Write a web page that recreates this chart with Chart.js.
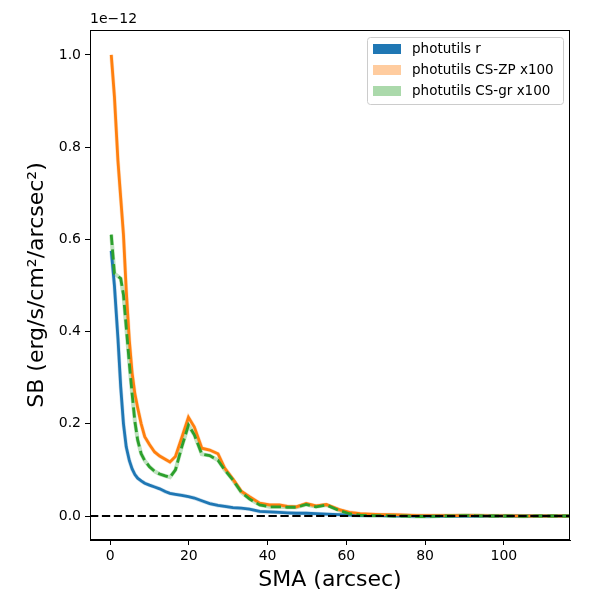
<!DOCTYPE html>
<html>
<head>
<meta charset="utf-8">
<script src="https://cdn.jsdelivr.net/npm/chart.js@4.4.1/dist/chart.umd.min.js"></script>
<style>
  html, body { margin: 0; padding: 0; background: #fff; }
  #wrap { width: 600px; height: 600px; }
</style>
</head>
<body>
<div id="wrap"><canvas id="c" width="600" height="600"></canvas></div>
<script>
// ---- data (SB in units of 1e-12) ----
const sma = [0.3, 1.1, 2.0, 2.7, 3.4, 4.1, 4.9, 5.6, 6.3, 7.0, 7.9, 8.8, 10.0, 11.3, 12.6, 14.0, 15.2, 16.6, 18.2, 19.9,
             21.4, 23.3, 25.3, 27.4, 29.1, 31.2, 33.3, 35.4, 38.0, 40.5, 43.0, 45.0, 47.3, 49.8, 52.3, 54.9, 58.2, 60.8, 63.5, 66.0,
             69, 72, 75, 78, 81, 84, 87, 90, 93, 96, 99, 102, 105, 108, 111, 114, 117];
const sbR = [0.575, 0.50, 0.385, 0.28, 0.20, 0.150, 0.120, 0.102, 0.090, 0.082, 0.076, 0.071, 0.067, 0.063, 0.059, 0.053, 0.049, 0.047, 0.045, 0.042,
             0.039, 0.033, 0.027, 0.023, 0.021, 0.018, 0.017, 0.015, 0.010, 0.009, 0.008, 0.007, 0.006, 0.006, 0.005, 0.004, 0.003, 0.002, 0.001, 0.001,
             0.001, 0.0005, 0.0005, 0.0, 0.0, 0.0, 0.0, 0.0, 0.0, 0.0, 0.0, 0.0, 0.0, 0.0, 0.0, 0.0, 0.0];
const sbZP = [1.0, 0.91, 0.77, 0.69, 0.61, 0.49, 0.38, 0.31, 0.265, 0.235, 0.20, 0.172, 0.155, 0.139, 0.130, 0.123, 0.117, 0.129, 0.170, 0.214,
              0.193, 0.147, 0.143, 0.135, 0.104, 0.080, 0.054, 0.042, 0.028, 0.024, 0.024, 0.021, 0.020, 0.027, 0.022, 0.025, 0.014, 0.008, 0.005, 0.004,
              0.003, 0.003, 0.002, 0.001, 0.001, 0.001, 0.001, 0.001, 0.001, 0.0005, 0.0005, 0.0005, 0.0, 0.0, 0.0, 0.0, 0.0];
const sbGR = [0.61, 0.526, 0.52, 0.515, 0.48, 0.41, 0.33, 0.265, 0.205, 0.165, 0.135, 0.120, 0.107, 0.097, 0.091, 0.087, 0.084, 0.100, 0.150, 0.197,
              0.176, 0.134, 0.131, 0.121, 0.100, 0.078, 0.052, 0.037, 0.024, 0.020, 0.020, 0.019, 0.019, 0.025, 0.020, 0.024, 0.012, 0.005, 0.002, 0.001,
              0.001, 0.0, 0.0, -0.001, -0.001, 0.0, 0.0, 0.001, 0.0005, 0.0, 0.0, 0.0, -0.0005, 0.0, 0.0, 0.0, 0.0];
const seriesLabels = ['photutils r', 'photutils CS-ZP x100', 'photutils CS-gr x100'];
const xTicks = [0, 20, 40, 60, 80, 100];
const yTicks = [0.0, 0.2, 0.4, 0.6, 0.8, 1.0];
const xRange = [-5.1, 116.8];
const yRange = [-0.052, 1.054];
const zeroLevel = 0;

const BLUE = '#1f77b4', ORANGE = '#ff7f0e', GREEN = '#2ca02c';
const FONT = 'DejaVu Sans';

function pts(ys) { return sma.map((x, i) => ({x: x, y: ys[i]})); }

const datasets = [
  // uncertainty bands (drawn as slightly wider translucent strokes)
  {label: seriesLabels[0], data: pts(sbR), borderColor: 'rgba(31,119,180,0.25)', borderWidth: 4, pointRadius: 0, legendBox: BLUE, order: 10},
  {label: seriesLabels[1], data: pts(sbZP), borderColor: 'rgba(255,127,14,0.25)', borderWidth: 4, pointRadius: 0, legendBox: 'rgba(255,127,14,0.4)', order: 9},
  {label: seriesLabels[2], data: pts(sbGR), borderColor: 'rgba(44,160,44,0.3)', borderWidth: 4, pointRadius: 0, legendBox: 'rgba(44,160,44,0.4)', order: 8},
  // main lines
  {label: '', data: pts(sbR), borderColor: BLUE, borderWidth: 2.8, pointRadius: 0, order: 7},
  {label: '', data: pts(sbZP), borderColor: ORANGE, borderWidth: 2.8, pointRadius: 0, order: 6},
  {label: '', data: pts(sbGR), borderColor: GREEN, borderWidth: 2.8, borderDash: [10.3, 4.4], pointRadius: 0, order: 5},
  // zero reference
  {label: '', data: [{x: xRange[0], y: zeroLevel}, {x: xRange[1], y: zeroLevel}], borderColor: '#000', borderWidth: 2, borderDash: [8.3, 3.6], pointRadius: 0, order: 1}
];

const framePlugin = {
  id: 'frame',
  afterDraw(chart) {
    const {ctx, chartArea: a} = chart;
    ctx.save();
    ctx.strokeStyle = '#000';
    ctx.lineWidth = 1;
    ctx.strokeRect(a.left + 0.5, a.top + 0.5, a.right - a.left - 1, a.bottom - a.top - 1);
    ctx.fillStyle = '#000';
    ctx.font = '14px "' + FONT + '"';
    ctx.textAlign = 'left';
    ctx.textBaseline = 'bottom';
    ctx.fillText('1e\u221212', a.left, a.top - 4);
    // legend
    const items = chart.data.datasets.filter(d => d.legendBox);
    const lx = 367, ly = 37, lw = 196, lh = 67;
    ctx.fillStyle = 'rgba(255,255,255,0.8)';
    ctx.strokeStyle = '#cccccc';
    ctx.lineWidth = 1;
    ctx.beginPath();
    if (ctx.roundRect) ctx.roundRect(lx + 0.5, ly + 0.5, lw, lh, 3); else ctx.rect(lx + 0.5, ly + 0.5, lw, lh);
    ctx.fill(); ctx.stroke();
    ctx.font = '13.5px "' + FONT + '"';
    ctx.textBaseline = 'middle';
    items.forEach((d, i) => {
      const cy = ly + 12 + i * 21;
      ctx.fillStyle = d.legendBox;
      ctx.fillRect(lx + 6, cy - 5, 28, 10);
      ctx.fillStyle = '#000';
      ctx.fillText(d.label, lx + 45, cy);
    });
    ctx.restore();
  }
};

new Chart(document.getElementById('c'), {
  type: 'line',
  data: {datasets: datasets},
  plugins: [framePlugin],
  options: {
    responsive: false,
    animation: false,
    devicePixelRatio: 1,
    layout: {padding: {top: 30, right: 30, left: 0, bottom: 0}},
    plugins: {legend: {display: false}, tooltip: {enabled: false}},
    elements: {line: {tension: 0, fill: false}},
    scales: {
      x: {
        type: 'linear', min: xRange[0], max: xRange[1],
        afterBuildTicks(s) { s.ticks = xTicks.map(v => ({value: v})); },
        afterFit(s) { s.height = 60; },
        grid: {drawOnChartArea: false, drawTicks: true, tickLength: 5, color: '#000', tickWidth: 1},
        border: {display: true, color: '#000', width: 1},
        ticks: {color: '#000', font: {family: FONT, size: 14}, padding: 3, maxRotation: 0, autoSkip: false,
                callback: v => String(v)},
        title: {display: true, text: 'SMA (arcsec)', color: '#000', font: {family: FONT, size: 22}, padding: {top: 0, bottom: 7}}
      },
      y: {
        type: 'linear', min: yRange[0], max: yRange[1],
        afterBuildTicks(s) { s.ticks = yTicks.map(v => ({value: v})); },
        afterFit(s) { s.width = 90; },
        grid: {drawOnChartArea: false, drawTicks: true, tickLength: 5, color: '#000', tickWidth: 1},
        border: {display: true, color: '#000', width: 1},
        ticks: {color: '#000', font: {family: FONT, size: 14}, padding: 4, autoSkip: false,
                callback: v => Number(v).toFixed(1)},
        title: {display: true, text: 'SB (erg/s/cm\u00b2/arcsec\u00b2)', color: '#000', font: {family: FONT, size: 22}, padding: {top: 24, bottom: 0}}
      }
    }
  }
});
</script>
</body>
</html>
